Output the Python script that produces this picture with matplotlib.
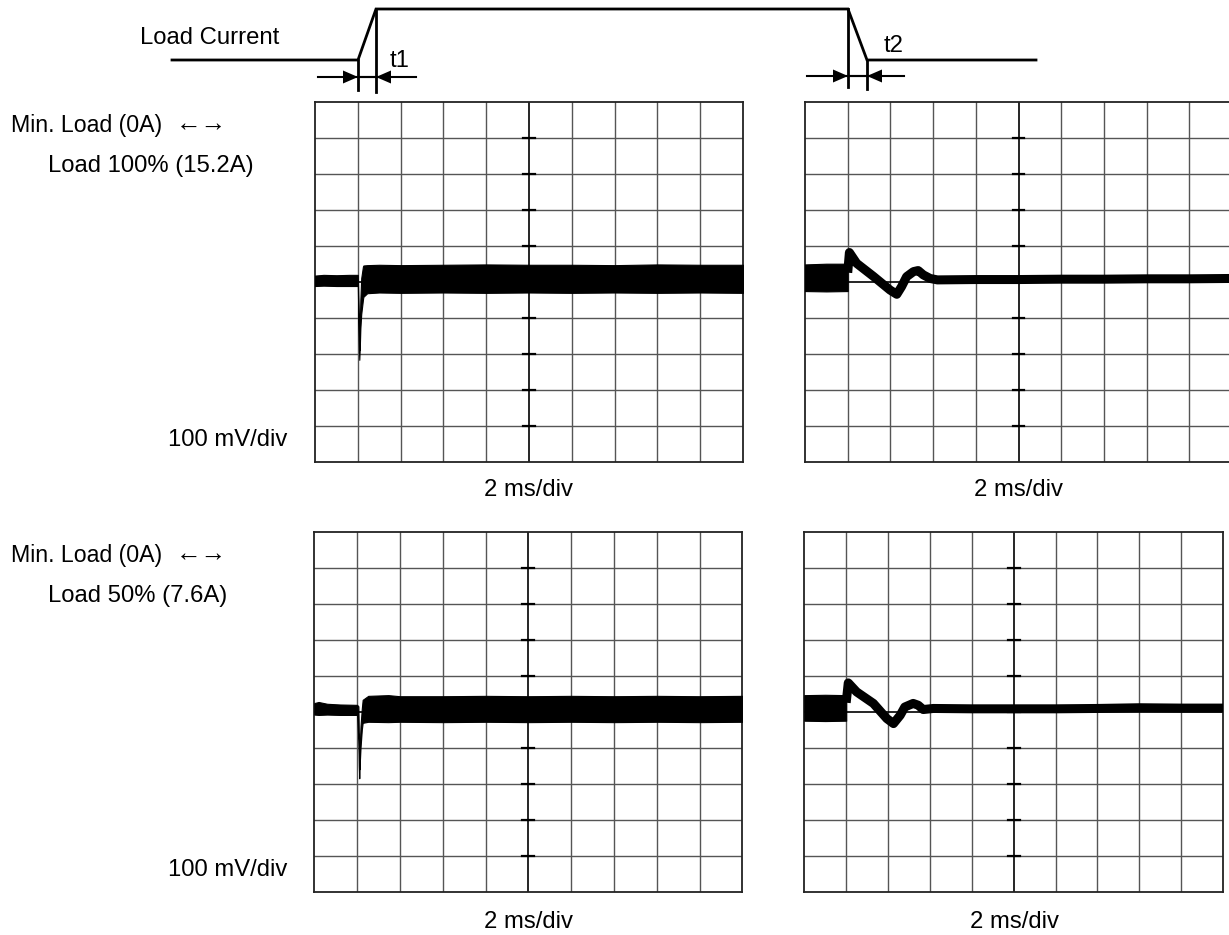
import matplotlib
matplotlib.use('Agg')
import matplotlib.pyplot as plt

W, H = 1229, 935
plt.rcParams['font.family'] = ['Liberation Sans', 'DejaVu Sans']

# ---------------- data (in scope divisions) ----------------
# top-left: Min -> 100% load step (noise band envelope)
tl_x = [0.0, 0.2, 0.5, 0.8, 1.0, 1.01, 1.02, 1.035, 1.05, 1.06, 1.08, 1.12, 1.13, 1.22, 1.5, 2.0, 3.0, 4.0, 5.0, 6.0, 7.0, 8.0, 9.0, 10.0]
tl_up = [0.17, 0.19, 0.18, 0.19, 0.19, -0.3, -1.0, -1.9, -1.0, -0.5, 0.1, 0.42, 0.45, 0.46, 0.47, 0.46, 0.47, 0.48, 0.47, 0.47, 0.46, 0.48, 0.47, 0.47]
tl_lo = [-0.12, -0.11, -0.12, -0.12, -0.12, -0.8, -1.6, -2.17, -1.7, -1.3, -0.9, -0.5, -0.42, -0.32, -0.30, -0.31, -0.30, -0.31, -0.30, -0.31, -0.30, -0.31, -0.30, -0.31]

# top-right: 100% -> Min load step (pre-step band + transient trace)
tr_pre_x = [0.0, 0.5, 1.0]
tr_pre_up = [0.48, 0.50, 0.50]
tr_pre_lo = [-0.26, -0.27, -0.26]
tr_x = [1.0, 1.04, 1.21, 1.6, 1.99, 2.15, 2.26, 2.38, 2.54, 2.65, 2.77, 2.93, 3.1, 4.0, 5.0, 6.0, 7.0, 8.0, 9.0, 10.0]
tr_y = [0.25, 0.81, 0.51, 0.15, -0.23, -0.35, -0.14, 0.14, 0.28, 0.31, 0.19, 0.09, 0.05, 0.06, 0.06, 0.07, 0.07, 0.08, 0.08, 0.09]

# bottom-left: Min -> 50% load step
bl_x = [0.0, 0.1, 0.3, 0.6, 1.0, 1.03, 1.04, 1.05, 1.06, 1.08, 1.11, 1.13, 1.26, 1.73, 2.0, 3.0, 4.0, 5.0, 6.0, 7.0, 8.0, 9.0, 10.0]
bl_up = [0.24, 0.27, 0.22, 0.20, 0.19, 0.15, -0.6, -1.6, -1.0, -0.4, 0.09, 0.33, 0.44, 0.46, 0.43, 0.43, 0.44, 0.43, 0.44, 0.43, 0.44, 0.43, 0.44]
bl_lo = [-0.08, -0.09, -0.08, -0.09, -0.09, -0.8, -1.5, -1.85, -1.5, -1.0, -0.5, -0.31, -0.28, -0.29, -0.28, -0.29, -0.28, -0.29, -0.28, -0.29, -0.28, -0.29, -0.28]

# bottom-right: 50% -> Min load step
br_pre_x = [0.0, 0.5, 1.0]
br_pre_up = [0.46, 0.47, 0.46]
br_pre_lo = [-0.25, -0.26, -0.25]
br_x = [1.0, 1.05, 1.25, 1.65, 1.97, 2.13, 2.29, 2.40, 2.60, 2.72, 2.84, 3.08, 4.0, 5.0, 6.0, 7.0, 8.0, 9.0, 10.0]
br_y = [0.25, 0.80, 0.55, 0.23, -0.19, -0.33, -0.10, 0.13, 0.23, 0.18, 0.06, 0.09, 0.08, 0.08, 0.08, 0.09, 0.11, 0.10, 0.10]

# ---------------- layout (pixels) ----------------
panels = {
    'tl': (315.0, 101.7, 428.0, 360.0),
    'tr': (805.0, 101.7, 427.0, 360.0),
    'bl': (314.3, 531.7, 428.0, 360.0),
    'br': (804.3, 531.7, 418.7, 360.0),
}

fig = plt.figure(figsize=(W / 100, H / 100), dpi=100)


def make_panel(key):
    x0, y0, w, h = panels[key]
    ax = fig.add_axes([x0 / W, 1 - (y0 + h) / H, w / W, h / H])
    ax.set_xlim(0, 10)
    ax.set_ylim(-5, 5)
    ax.set_xticks([])
    ax.set_yticks([])
    for s in ax.spines.values():
        s.set_color('#222222')
        s.set_linewidth(1.3)
    for i in range(1, 10):
        if i == 5:
            continue
        ax.axvline(i, color='#555555', lw=1.0, zorder=1)
        ax.axhline(i - 5, color='#555555', lw=1.0, zorder=1)
    ax.axvline(5, color='black', lw=1.2, zorder=1.5)
    ax.axhline(0, color='black', lw=1.2, zorder=1.5)
    for i in range(1, 10):
        ax.plot([4.86, 5.14], [i - 5, i - 5], color='black', lw=1.6, zorder=1.6)
    return ax


ax = make_panel('tl')
ax.fill_between(tl_x, tl_lo, tl_up, color='black', lw=0.8, edgecolor='black', zorder=3)

ax = make_panel('tr')
ax.fill_between(tr_pre_x, tr_pre_lo, tr_pre_up, color='black', lw=0.8, edgecolor='black', zorder=3)
ax.plot(tr_x, tr_y, color='black', lw=6.5, solid_joinstyle='round', solid_capstyle='butt', zorder=3)

ax = make_panel('bl')
ax.fill_between(bl_x, bl_lo, bl_up, color='black', lw=0.8, edgecolor='black', zorder=3)

ax = make_panel('br')
ax.fill_between(br_pre_x, br_pre_lo, br_pre_up, color='black', lw=0.8, edgecolor='black', zorder=3)
ax.plot(br_x, br_y, color='black', lw=6.5, solid_joinstyle='round', solid_capstyle='butt', zorder=3)

# ---------------- overlay: schematic + labels (pixel space) ----------------
ov = fig.add_axes([0, 0, 1, 1], facecolor='none')
ov.set_xlim(0, W)
ov.set_ylim(H, 0)
ov.axis('off')

lw_s = 2.0
# load current waveform
ov.plot([172, 358, 376, 848, 867, 1036], [60, 60, 9, 9, 60, 60], color='black', lw=lw_s,
        solid_joinstyle='miter')
ov.plot([358, 358], [60, 90], color='black', lw=lw_s)
ov.plot([376, 376], [9, 92], color='black', lw=lw_s)
ov.plot([848, 848], [9, 87], color='black', lw=lw_s)
ov.plot([867, 867], [60, 89], color='black', lw=lw_s)


def arrow_pair(xa, xb, y, left_start, right_start):
    ov.plot([left_start, xb], [y, y], color='black', lw=1.5)
    ov.plot([xa, right_start], [y, y], color='black', lw=1.5)
    ov.fill([xa, xa - 15, xa - 15], [y, y - 6.5, y + 6.5], color='black', lw=0)
    ov.fill([xb, xb + 15, xb + 15], [y, y - 6.5, y + 6.5], color='black', lw=0)


arrow_pair(358, 376, 77, 318, 416)
arrow_pair(848, 867, 76, 807, 904)

fs = 17.2
ov.text(210, 44.3, 'Load Current', fontsize=fs, ha='center', va='baseline')
ov.text(400, 66.7, 't1', fontsize=fs, ha='center', va='baseline')
ov.text(894, 51.7, 't2', fontsize=fs, ha='center', va='baseline')

for dy, txt in [(0, 'Load 100% (15.2A)'), (430, 'Load 50% (7.6A)')]:
    ov.text(11, 131.7 + dy, 'Min. Load (0A)', fontsize=16.7, ha='left', va='baseline')
    ov.text(176, 131.7 + dy, '\u2190\u2192', fontsize=18.4, ha='left', va='baseline')
    ov.text(48, 171.7 + dy, txt, fontsize=fs, ha='left', va='baseline')
    ov.text(168, 446 + dy, '100 mV/div', fontsize=fs, ha='left', va='baseline')

ov.text(529, 496, '2 ms/div', fontsize=fs, ha='center', va='baseline')
ov.text(1019, 496, '2 ms/div', fontsize=fs, ha='center', va='baseline')
ov.text(528, 928, '2 ms/div', fontsize=fs, ha='center', va='baseline')
ov.text(1014, 928, '2 ms/div', fontsize=fs, ha='center', va='baseline')

fig.savefig('out.png', dpi=100)
